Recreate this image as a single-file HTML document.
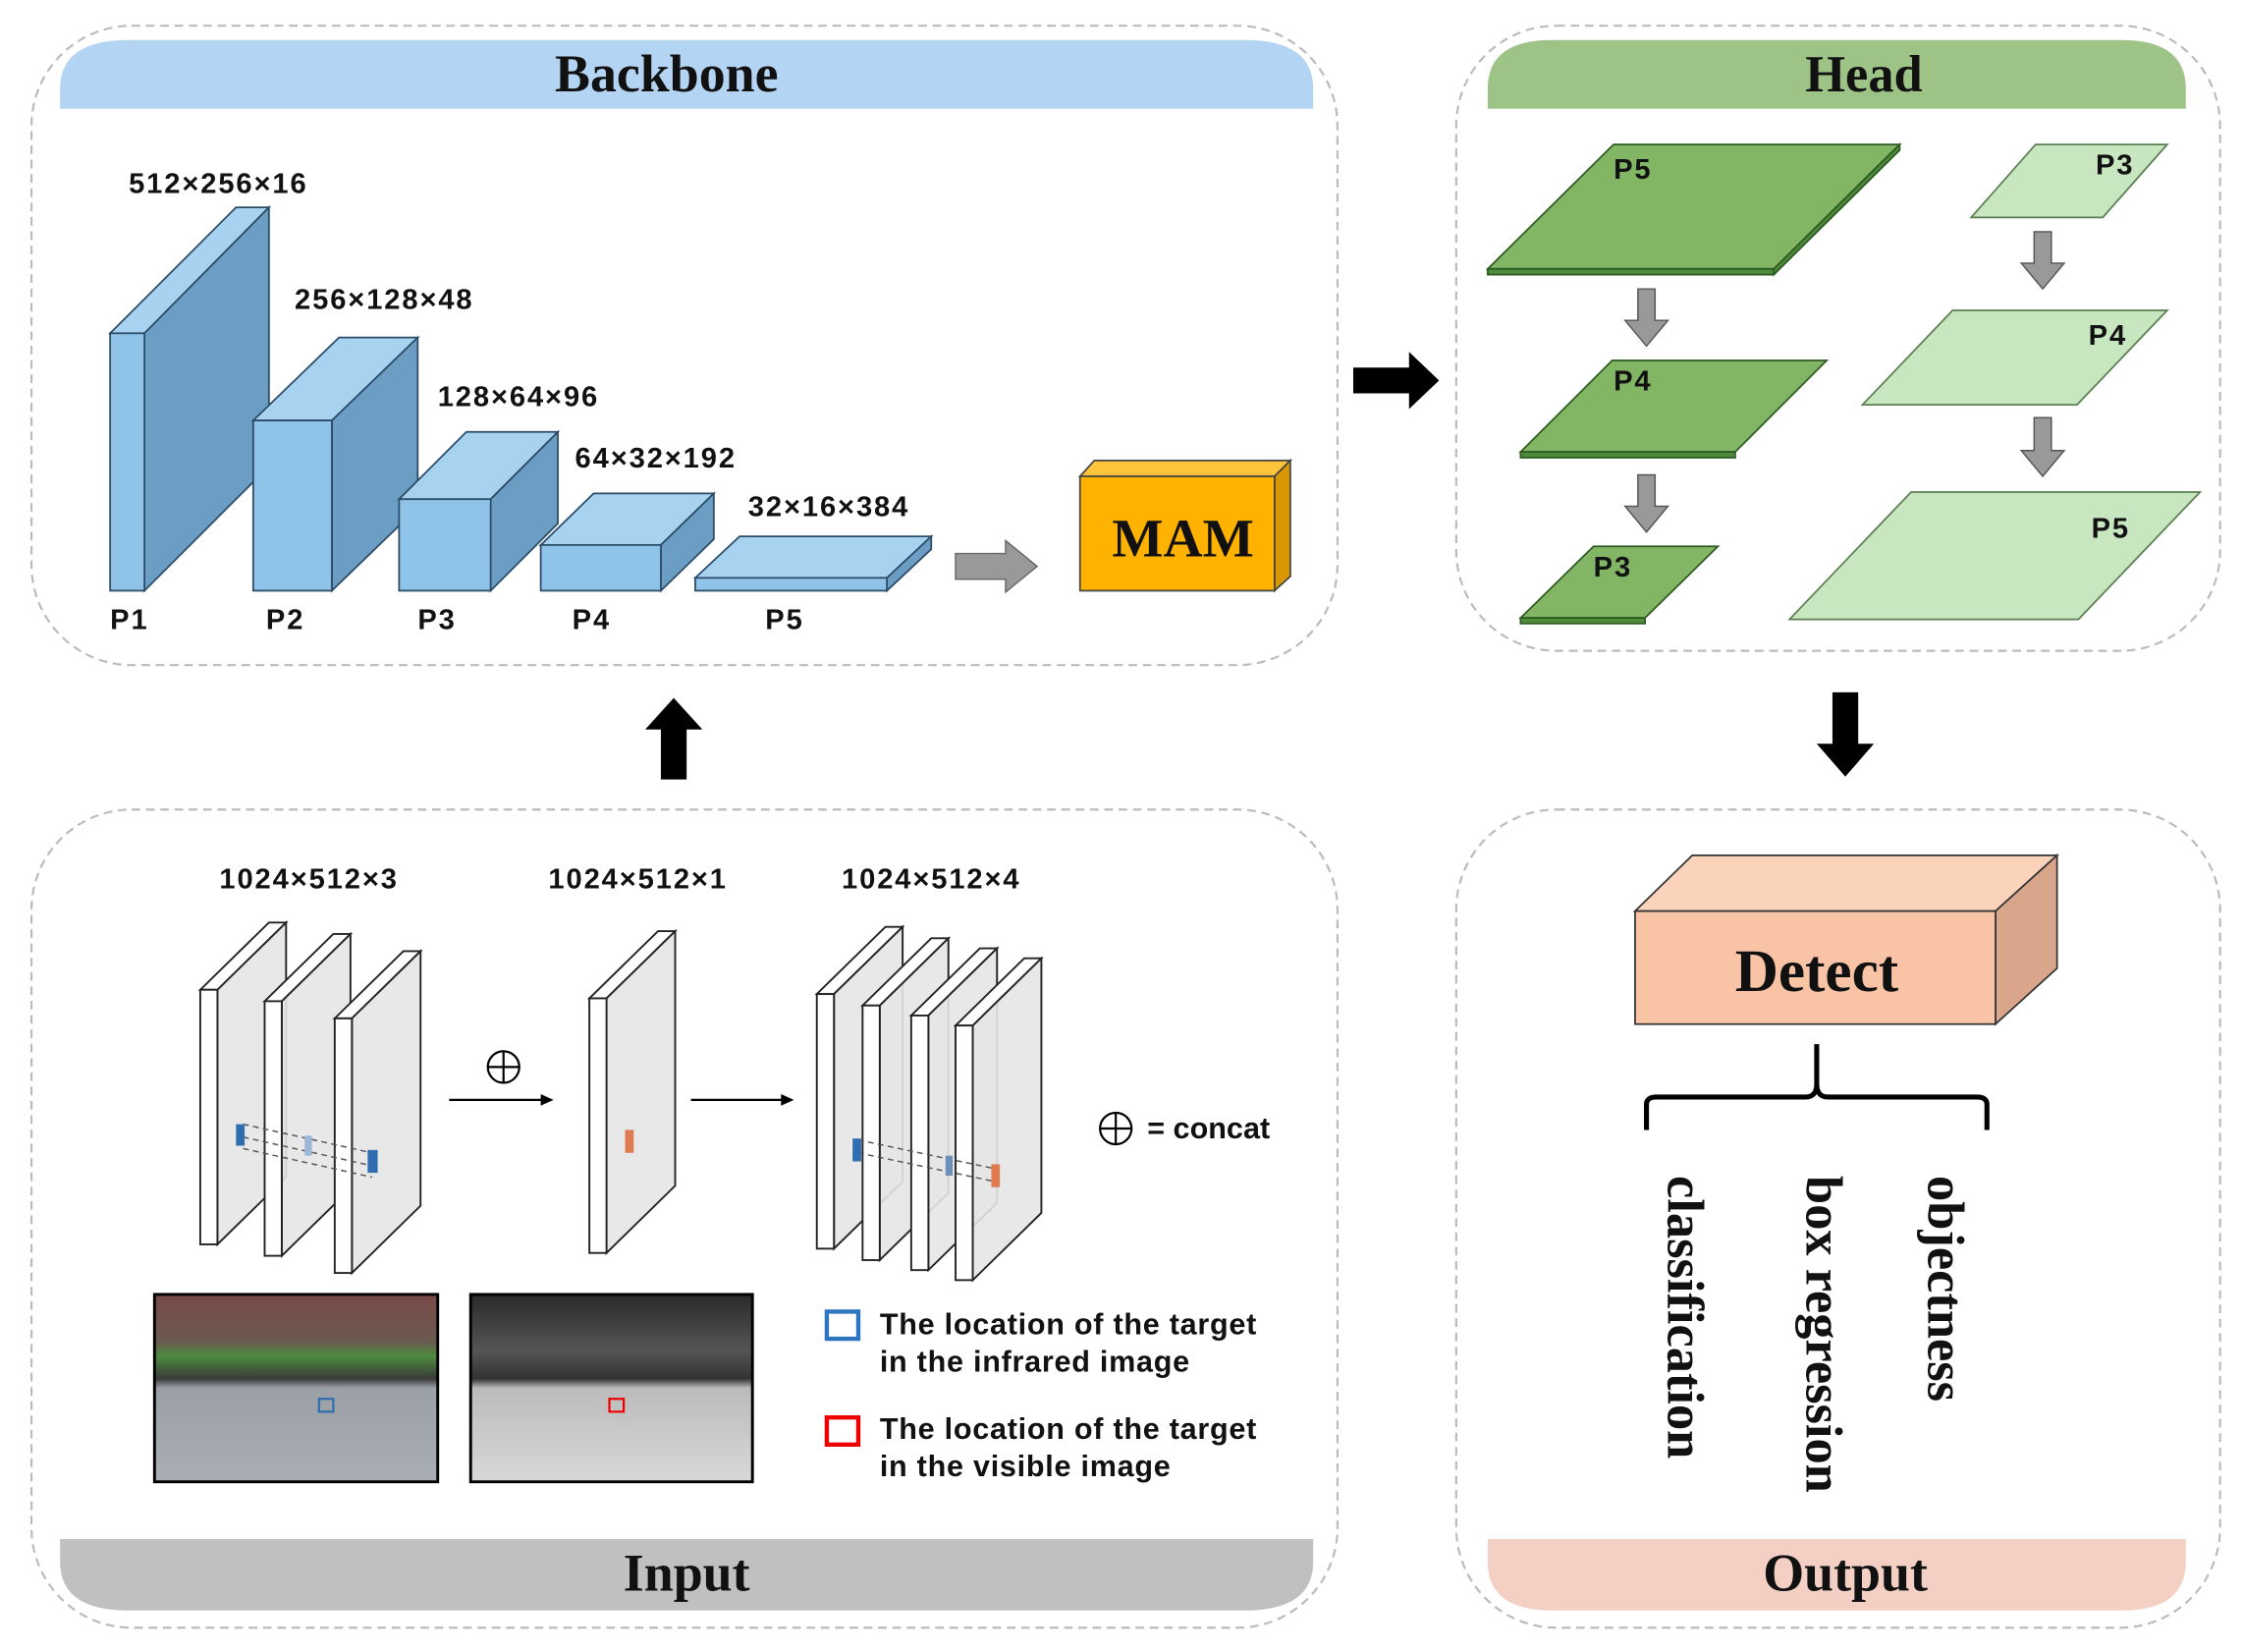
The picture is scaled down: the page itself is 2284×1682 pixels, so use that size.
<!DOCTYPE html>
<html><head><meta charset="utf-8"><style>
html,body{margin:0;padding:0;background:#fff;}
svg{display:block;}
.s{font-family:"Liberation Sans",Arial,sans-serif;font-weight:bold;font-size:20px;letter-spacing:1.3px;fill:#111;}
.t{font-family:"Liberation Serif",serif;font-weight:bold;fill:#111;}
.n{font-family:"Liberation Sans",Arial,sans-serif;font-size:21px;fill:#111;}
</style></head><body>
<svg width="2284" height="1682" viewBox="0 0 1568 1155" preserveAspectRatio="none" xmlns="http://www.w3.org/2000/svg">
<g fill="none" stroke="#bbb" stroke-width="1.5" stroke-dasharray="6,4">
<rect x="22" y="18" width="913" height="447" rx="70"/>
<rect x="1018" y="18" width="534" height="437" rx="70"/>
<rect x="22" y="566" width="913" height="572" rx="70"/>
<rect x="1018" y="566" width="534" height="572" rx="70"/>
</g>
<path d="M42 76 L42 62 Q42 28 90 28 L870 28 Q918 28 918 62 L918 76 Z" fill="#b4d4f4"/>
<path d="M1040 76 L1040 62 Q1040 28 1085 28 L1483 28 Q1528 28 1528 62 L1528 76 Z" fill="#9dc386"/>
<path d="M42 1076 L918 1076 L918 1092 Q918 1126 870 1126 L90 1126 Q42 1126 42 1092 Z" fill="#c0c0c0"/>
<path d="M1040 1076 L1528 1076 L1528 1092 Q1528 1126 1483 1126 L1085 1126 Q1040 1126 1040 1092 Z" fill="#f4d0c4"/>
<text class="t" x="466" y="64" font-size="37" text-anchor="middle">Backbone</text>
<text class="t" x="1303" y="64" font-size="36" text-anchor="middle">Head</text>
<text class="t" x="480" y="1112" font-size="37" text-anchor="middle">Input</text>
<text class="t" x="1290" y="1112" font-size="37" text-anchor="middle">Output</text>

<g stroke="#2a4a66" stroke-width="1.2">
<polygon points="77,233 101,233 188,145 165,145" fill="#a8d3f0"/>
<polygon points="101,233 188,145 188,326 101,413" fill="#6c9dc2"/>
<rect x="77" y="233" width="24" height="180" fill="#8fc3e8"/>
<polygon points="177,294 232,294 292,236 237,236" fill="#a8d3f0"/>
<polygon points="232,294 292,236 292,355 232,413" fill="#6c9dc2"/>
<rect x="177" y="294" width="55" height="119" fill="#8fc3e8"/>
<polygon points="279,349 343,349 390,302 326,302" fill="#a8d3f0"/>
<polygon points="343,349 390,302 390,366 343,413" fill="#6c9dc2"/>
<rect x="279" y="349" width="64" height="64" fill="#8fc3e8"/>
<polygon points="378,381 462,381 499,345 415,345" fill="#a8d3f0"/>
<polygon points="462,381 499,345 499,377 462,413" fill="#6c9dc2"/>
<rect x="378" y="381" width="84" height="32" fill="#8fc3e8"/>
<polygon points="486,404 620,404 651,375 517,375" fill="#a8d3f0"/>
<polygon points="620,404 651,375 651,384 620,413" fill="#6c9dc2"/>
<rect x="486" y="404" width="134" height="9" fill="#8fc3e8"/>
</g>
<text class="s" x="90" y="135">512×256×16</text>
<text class="s" x="206" y="216">256×128×48</text>
<text class="s" x="306" y="284">128×64×96</text>
<text class="s" x="402" y="327">64×32×192</text>
<text class="s" x="523" y="361">32×16×384</text>
<text class="s" x="77" y="440">P1</text>
<text class="s" x="186" y="440">P2</text>
<text class="s" x="292" y="440">P3</text>
<text class="s" x="400" y="440">P4</text>
<text class="s" x="535" y="440">P5</text>
<polygon points="668,387 703,387 703,378 725,396 703,414 703,405 668,405" fill="#999" stroke="#666"/>
<g stroke="#444" stroke-width="1.2">
<polygon points="755,333 891,333 902,322 765,322" fill="#ffc43a"/>
<polygon points="891,333 902,322 902,403 891,413" fill="#d99800"/>
<rect x="755" y="333" width="136" height="80" fill="#ffb300"/>
</g>
<text class="t" x="827" y="389" font-size="38" text-anchor="middle">MAM</text>

<polygon points="946,257 985,257 985,246 1006,266 985,286 985,275 946,275" fill="#000"/>
<polygon points="462,545 480,545 480,510 491,510 471,488 451,510 462,510" fill="#000"/>
<polygon points="1281,484 1299,484 1299,520 1310,520 1290,543 1270,520 1281,520" fill="#000"/>

<g stroke="#2d5a22" stroke-width="1.2">
<polygon points="1040,188 1240,188 1328,101 1128,101" fill="#82b664"/>
<polygon points="1040,188 1240,188 1240,192 1040,192" fill="#4d8a3a"/>
<polygon points="1240,188 1328,101 1328,105 1240,192" fill="#4d8a3a"/>
<polygon points="1063,316 1213,316 1277,252 1127,252" fill="#82b664"/>
<polygon points="1063,316 1213,316 1213,320 1063,320" fill="#4d8a3a"/>
<polygon points="1063,432 1150,432 1201,382 1114,382" fill="#82b664"/>
<polygon points="1063,432 1150,432 1150,436 1063,436" fill="#4d8a3a"/>
</g>
<g stroke="#5a7f50" stroke-width="1.2" fill="#c8e6c0">
<polygon points="1378,152 1470,152 1515,101 1423,101"/>
<polygon points="1302,283 1452,283 1515,217 1365,217"/>
<polygon points="1251,433 1453,433 1538,344 1336,344"/>
</g>
<g fill="#999" stroke="#555">
<polygon points="1145,202 1157,202 1157,224 1166,224 1151,242 1136,224 1145,224"/>
<polygon points="1145,332 1157,332 1157,354 1166,354 1151,372 1136,354 1145,354"/>
<polygon points="1422,162 1434,162 1434,184 1443,184 1428,202 1413,184 1422,184"/>
<polygon points="1422,292 1434,292 1434,315 1443,315 1428,333 1413,315 1422,315"/>
</g>
<text class="s" x="1128" y="125">P5</text>
<text class="s" x="1128" y="273">P4</text>
<text class="s" x="1114" y="403">P3</text>
<text class="s" x="1465" y="122">P3</text>
<text class="s" x="1460" y="241">P4</text>
<text class="s" x="1462" y="376">P5</text>

<g stroke="#333" stroke-width="1.2">
<polygon points="1143,637 1395,637 1438,598 1183,598" fill="#fbd3bb"/>
<polygon points="1395,637 1438,598 1438,677 1395,716" fill="#d9a68c"/>
<rect x="1143" y="637" width="252" height="79" fill="#f9c4a6"/>
</g>
<text class="t" x="1270" y="693" font-size="42" text-anchor="middle">Detect</text>
<path d="M1151 790 L1151 772 Q1151 767 1158 767 L1262 767 Q1270 767 1270 758 L1270 730 M1270 758 Q1270 767 1278 767 L1382 767 Q1389 767 1389 772 L1389 790" fill="none" stroke="#000" stroke-width="3.5"/>
<text class="t" font-size="36" transform="translate(1166,822) rotate(90)">classification</text>
<text class="t" font-size="36" transform="translate(1263,822) rotate(90)">box regression</text>
<text class="t" font-size="36" transform="translate(1348,822) rotate(90)">objectness</text>

<text class="s" x="216" y="621" text-anchor="middle">1024×512×3</text>
<text class="s" x="446" y="621" text-anchor="middle">1024×512×1</text>
<text class="s" x="651" y="621" text-anchor="middle">1024×512×4</text>
<g stroke="#222" stroke-width="1.3">
<g id="sh">
<polygon points="140,692 152,692 200,645 188,645" fill="#fff"/>
<polygon points="152,692 200,645 200,823 152,870" fill="#e6e6e6" fill-opacity="0.9"/>
<rect x="140" y="692" width="12" height="178" fill="#fff"/>
</g>
<use href="#sh" x="45" y="8"/>
<use href="#sh" x="94" y="20"/>
<use href="#sh" x="272" y="6"/>
<use href="#sh" x="431" y="3"/>
<use href="#sh" x="463" y="11"/>
<use href="#sh" x="497" y="18"/>
<use href="#sh" x="528" y="25"/>
</g>
<g stroke="#555" stroke-dasharray="4,3" fill="none">
<path d="M170 786 L260 806 M170 795 L260 815 M170 803 L260 823"/>
<path d="M600 797 L695 817 M600 806 L695 826"/>
</g>
<rect x="165" y="786" width="6" height="15" fill="#2e6db0"/>
<rect x="213" y="794" width="5" height="14" fill="#9bb8d8"/>
<rect x="257" y="804" width="7" height="16" fill="#2e6db0"/>
<rect x="437" y="790" width="6" height="16" fill="#e07a50"/>
<rect x="596" y="796" width="6" height="16" fill="#2e6db0"/>
<rect x="661" y="808" width="5" height="14" fill="#6c8fb8"/>
<rect x="693" y="814" width="6" height="16" fill="#e07a50"/>
<circle cx="352" cy="746" r="11" fill="none" stroke="#000" stroke-width="1.5"/>
<path d="M341 746 H363 M352 735 V757" stroke="#000" stroke-width="1.5"/>
<path d="M314 769 H380" stroke="#000" stroke-width="1.5"/><polygon points="378,765 387,769 378,773"/>
<path d="M483 769 H548" stroke="#000" stroke-width="1.5"/><polygon points="546,765 555,769 546,773"/>
<circle cx="780" cy="789" r="11" fill="none" stroke="#000" stroke-width="1.5"/>
<path d="M769 789 H791 M780 778 V800" stroke="#000" stroke-width="1.5"/>
<text class="n" x="802" y="796" font-weight="bold">= concat</text>
<defs>
<linearGradient id="ph1" x1="0" y1="0" x2="0" y2="1">
<stop offset="0" stop-color="#7a4a48"/><stop offset="0.25" stop-color="#6b5a50"/><stop offset="0.33" stop-color="#4d8a3e"/><stop offset="0.45" stop-color="#3a3a3a"/><stop offset="0.5" stop-color="#9aa0a6"/><stop offset="1" stop-color="#a8aeb4"/>
</linearGradient>
<linearGradient id="ph2" x1="0" y1="0" x2="0" y2="1">
<stop offset="0" stop-color="#2a2a2a"/><stop offset="0.3" stop-color="#555"/><stop offset="0.45" stop-color="#333"/><stop offset="0.5" stop-color="#bbb"/><stop offset="1" stop-color="#d8d8d8"/>
</linearGradient>
</defs>
<rect x="108" y="905" width="198" height="131" fill="url(#ph1)" stroke="#000" stroke-width="2"/>
<rect x="329" y="905" width="197" height="131" fill="url(#ph2)" stroke="#000" stroke-width="2"/>
<rect x="223" y="978" width="10" height="9" fill="none" stroke="#2e6db0" stroke-width="1.5"/>
<rect x="426" y="978" width="10" height="9" fill="none" stroke="#e00" stroke-width="1.5"/>
<rect x="578" y="917" width="22" height="19" fill="none" stroke="#2e75c0" stroke-width="3"/>
<rect x="578" y="991" width="22" height="19" fill="none" stroke="#e00" stroke-width="3"/>
<g font-weight="bold" letter-spacing="0.5">
<text class="n" x="615" y="933">The location of the target</text>
<text class="n" x="615" y="959">in the infrared image</text>
<text class="n" x="615" y="1006">The location of the target</text>
<text class="n" x="615" y="1032">in the visible image</text>
</g>
</svg>
</body></html>
